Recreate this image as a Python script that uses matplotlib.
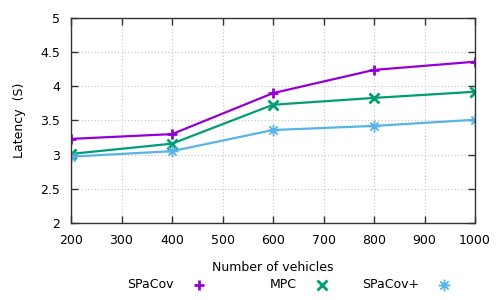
import matplotlib.pyplot as plt
from matplotlib.lines import Line2D
from matplotlib.path import Path

##### data #####
vehicles = [200, 400, 600, 800, 1000]
spacov = [3.23, 3.30, 3.90, 4.24, 4.36]
mpc = [3.01, 3.16, 3.73, 3.83, 3.92]
spacov_plus = [2.97, 3.05, 3.36, 3.42, 3.51]

labels = ["SPaCov", "MPC", "SPaCov+"]
colors = ["#9400D3", "#009E73", "#56B4E9"]
series = [spacov, mpc, spacov_plus]

xticks = [200, 300, 400, 500, 600, 700, 800, 900, 1000]
yticks = [2, 2.5, 3, 3.5, 4, 4.5, 5]

# gnuplot point type 3: plus and cross on top of each other
star = Path([(-1, 0), (1, 0), (0, -1), (0, 1), (-0.7, -0.7), (0.7, 0.7), (-0.7, 0.7), (0.7, -0.7)],
            [Path.MOVETO, Path.LINETO] * 4)
markers = ["+", "x", star]
msizes = [7, 7, 8.5]
mews = [2, 2, 1.3]

#### plot ####
plt.rcParams['font.family'] = 'DejaVu Sans'
plt.rcParams['font.size'] = 9

fig = plt.figure(figsize=(5, 3), dpi=100)
ax = fig.add_axes([0.142, 0.257, 0.808, 0.683])

for ys, lab, c, m, s, w in zip(series, labels, colors, markers, msizes, mews):
    ax.plot(vehicles, ys, color=c, lw=1.6, marker=m, ms=s, mew=w,
            fillstyle='none', label=lab)

ax.set_xlim(200, 1000)
ax.set_ylim(2, 5)
ax.set_xticks(xticks)
ax.set_yticks(yticks)
ax.set_yticklabels([f"{t:g}" for t in yticks])
ax.tick_params(direction='in', top=True, right=True, length=5, width=1, pad=8, colors='#333333', labelcolor='black')
ax.grid(True, linestyle=(0, (1, 2)), color='#c4c4c4', lw=0.8)
for sp in ax.spines.values():
    sp.set_linewidth(1.0)
    sp.set_color('#333333')

ax.set_xlabel("Number of vehicles", labelpad=10)
ax.set_ylabel("Latency  (S)", labelpad=10)

# gnuplot style key below the plot: label, then point sample
for i, (lab, c, m, s, w) in enumerate(zip(labels, colors, markers, msizes, mews)):
    mx = (199 + 122.5 * i) / 500
    fig.text(mx - 25 / 500, 1 - 285 / 300, lab, ha='right', va='center')
    fig.add_artist(Line2D([mx], [1 - 285 / 300], transform=fig.transFigure,
                          color=c, marker=m, ms=s, mew=w, fillstyle='none', ls='none'))

fig.savefig("out.png", dpi=100)
